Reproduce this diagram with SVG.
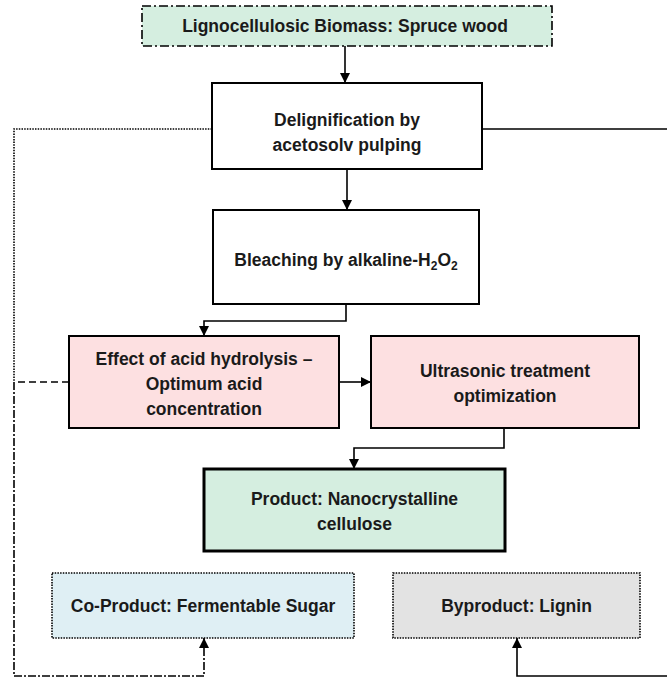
<svg xmlns="http://www.w3.org/2000/svg" width="667" height="677" viewBox="0 0 667 677">
<style>
text{font-family:"Liberation Sans",Arial,sans-serif;font-weight:bold;font-size:17.5px;fill:#1a1a1a;text-anchor:middle}
.box{stroke:#000;stroke-width:2}
.line{fill:none;stroke:#000;stroke-width:1.6}
</style>
<defs>
<marker id="arr" viewBox="0 0 10 10" refX="10" refY="5" markerUnits="userSpaceOnUse" markerWidth="10" markerHeight="10" orient="auto">
<path d="M0,0 L10,5 L0,10 z" fill="#000"/>
</marker>
</defs>
<rect width="667" height="677" fill="#fff"/>
<g id="connectors">
<path class="line" d="M345,46 V83" marker-end="url(#arr)"/>
<path class="line" d="M347,169 V210" marker-end="url(#arr)"/>
<path class="line" d="M346,304 V321 H204 V336" marker-end="url(#arr)"/>
<path class="line" d="M339,382 H371" marker-end="url(#arr)"/>
<path class="line" d="M504,428 V448 H354 V469" marker-end="url(#arr)"/>
<path class="line" d="M482,129 H672 V676 H517 V638" marker-end="url(#arr)"/>
<path class="line" d="M212,129 H14 V382" stroke-dasharray="1.5,1.2"/>
<path class="line" d="M69,382 H14" stroke-dasharray="7,4"/>
<path class="line" d="M14,382 V676 H204 V638" stroke-dasharray="8,2,2,2" marker-end="url(#arr)"/>
</g>
<g id="biomass">
<rect x="142" y="6" width="410" height="40" fill="#d5eee0" stroke="#000" stroke-width="1.6" stroke-dasharray="9,3,2,3"/>
<text x="345" y="32">Lignocellulosic Biomass: Spruce wood</text>
</g>
<g id="delignification">
<rect class="box" x="212" y="83" width="270" height="86" fill="#fff"/>
<text x="347" y="126">Delignification by</text>
<text x="347" y="151">acetosolv pulping</text>
</g>
<g id="bleaching">
<rect class="box" x="213" y="210" width="266" height="94" fill="#fff"/>
<text x="346" y="266">Bleaching by alkaline-H<tspan dy="4" font-size="12">2</tspan><tspan dy="-4">O</tspan><tspan dy="4" font-size="12">2</tspan></text>
</g>
<g id="acid-hydrolysis">
<rect class="box" x="69" y="336" width="270" height="92" fill="#fde0e1"/>
<text x="204" y="365">Effect of acid hydrolysis –</text>
<text x="204" y="390">Optimum acid</text>
<text x="204" y="415">concentration</text>
</g>
<g id="ultrasonic">
<rect class="box" x="371" y="336" width="268" height="92" fill="#fde0e1"/>
<text x="505" y="377">Ultrasonic treatment</text>
<text x="505" y="402">optimization</text>
</g>
<g id="product">
<rect x="204" y="469" width="301" height="82" fill="#d5eee0" stroke="#000" stroke-width="3"/>
<text x="354.5" y="505">Product: Nanocrystalline</text>
<text x="354.5" y="530">cellulose</text>
</g>
<g id="co-product">
<rect x="52" y="573" width="302" height="65" fill="#dfeff4" stroke="#000" stroke-width="1.6" stroke-dasharray="1.5,1.2"/>
<text x="203" y="612">Co-Product: Fermentable Sugar</text>
</g>
<g id="byproduct">
<rect x="393" y="573" width="247" height="65" fill="#e3e3e3" stroke="#000" stroke-width="1.6" stroke-dasharray="1.5,1.2"/>
<text x="516.5" y="612">Byproduct: Lignin</text>
</g>
</svg>
